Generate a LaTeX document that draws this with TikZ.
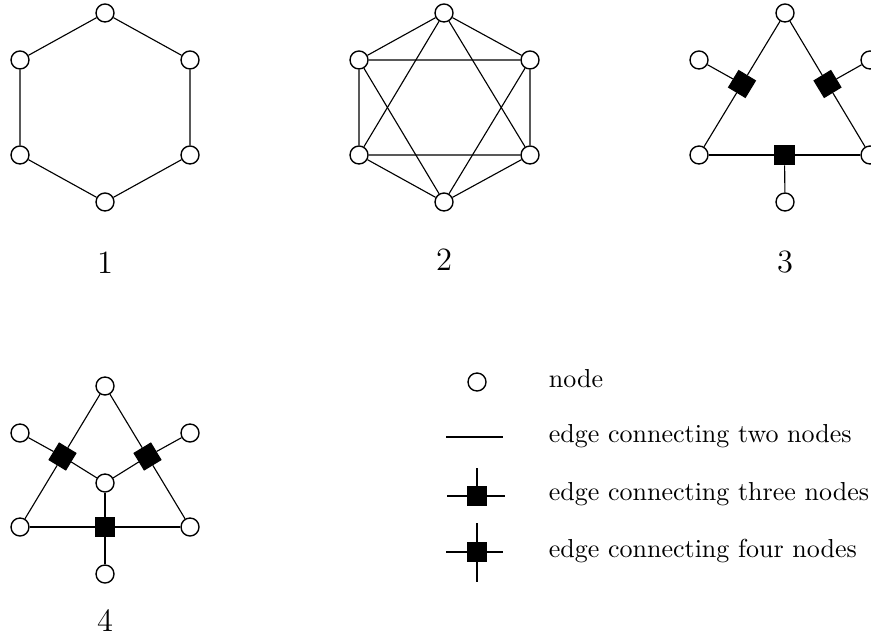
\documentclass[tikz,border=0pt]{standalone}
\begin{document}
\begin{tikzpicture}[x=0.4pt,y=-0.4pt,line width=0.45pt,
    vertex/.style={circle,draw,line width=0.55pt,fill=white,inner sep=0pt,minimum size=7.2pt},
    hyper/.style={rectangle,draw,fill=black,inner sep=0pt,minimum size=7.8pt},
    graphlabel/.style={anchor=base,font=\fontsize{13pt}{15pt}\selectfont},
    legendtext/.style={anchor=base west,font=\fontsize{10.4pt}{12.5pt}\selectfont}]
    \useasboundingbox (0,0) rectangle (871,638);

    % Graph 1: the six-cycle
    \foreach \name/\x/\y in {a/105/13, b/190/60, c/190/155, d/105/202, e/20/155, f/20/60}
      \node[vertex] (g1\name) at (\x,\y) {};
    \draw (g1a) -- (g1b) -- (g1c) -- (g1d) -- (g1e) -- (g1f) -- (g1a);

    % Graph 2: cycle plus two triangles
    \foreach \name/\x/\y in {a/444/13, b/530/60, c/530/155, d/444/202, e/359/155, f/359/60}
      \node[vertex] (g2\name) at (\x,\y) {};
    \draw (g2a) -- (g2b) -- (g2c) -- (g2d) -- (g2e) -- (g2f) -- (g2a);
    \draw (g2a) -- (g2c) -- (g2e) -- (g2a);
    \draw (g2b) -- (g2d) -- (g2f) -- (g2b);

    % Graph 3: triangle with three hyperedges
    \foreach \name/\x/\y in {a/785/13, b/870/60, c/870/155, d/785/202, e/699/155, f/699/60}
      \node[vertex] (g3\name) at (\x,\y) {};
    \node[hyper,rotate=58.8] (g3p) at (barycentric cs:g3a=1,g3e=1) {};
    \node[hyper,rotate=-58.8] (g3q) at (barycentric cs:g3a=1,g3c=1) {};
    \node[hyper] (g3r) at (barycentric cs:g3c=1,g3e=1) {};
    \draw (g3a) -- (g3p) -- (g3e);
    \draw (g3a) -- (g3q) -- (g3c);
    \draw (g3e) -- (g3r) -- (g3c);
    \draw (g3f) -- (g3p);
    \draw (g3b) -- (g3q);
    \draw (g3d) -- (g3r);

    % Graph 4: triangle with three four-node edges
    \foreach \name/\x/\y in {a/105/386, b/190/433, c/190/527, d/105/574, e/20/527, f/20/433, m/105/483}
      \node[vertex] (g4\name) at (\x,\y) {};
    \node[hyper,rotate=58.8] (g4p) at (barycentric cs:g4a=1,g4e=1) {};
    \node[hyper,rotate=-58.8] (g4q) at (barycentric cs:g4a=1,g4c=1) {};
    \node[hyper] (g4r) at (barycentric cs:g4c=1,g4e=1) {};
    \draw (g4a) -- (g4p) -- (g4e);
    \draw (g4a) -- (g4q) -- (g4c);
    \draw (g4e) -- (g4r) -- (g4c);
    \draw (g4f) -- (g4p) -- (g4m);
    \draw (g4b) -- (g4q) -- (g4m);
    \draw (g4d) -- (g4r) -- (g4m);

    % Label the graphs
    \node[graphlabel] (lab1) at (105,274) {1};
    \node[graphlabel] (lab2) at (444,271) {2};
    \node[graphlabel] (lab3) at (785,273) {3};
    \node[graphlabel] (lab4) at (105,631) {4};

    % Legend
    \node[vertex] (legv) at (477,382) {};
    \coordinate (l2w) at (446,437);
    \coordinate (l2e) at (503,437);
    \draw (l2w) -- (l2e);
    \node[hyper] (leg3) at (477,496) {};
    \coordinate (l3w) at (447,496);
    \coordinate (l3e) at (505,496);
    \coordinate (l3n) at (477,468);
    \draw (l3w) -- (l3e);
    \draw (l3n) -- (leg3);
    \node[hyper] (leg4) at (477,552) {};
    \coordinate (l4w) at (446,552);
    \coordinate (l4e) at (503,552);
    \coordinate (l4n) at (477,523);
    \coordinate (l4s) at (477,582);
    \draw (l4w) -- (l4e);
    \draw (l4n) -- (l4s);

    \node[legendtext] (txt1) at (540,387) {node};
    \node[legendtext] (txt2) at (540,442) {edge connecting two nodes};
    \node[legendtext] (txt3) at (540,500) {edge connecting three nodes};
    \node[legendtext] (txt4) at (540,557) {edge connecting four nodes};
\end{tikzpicture}
\end{document}
